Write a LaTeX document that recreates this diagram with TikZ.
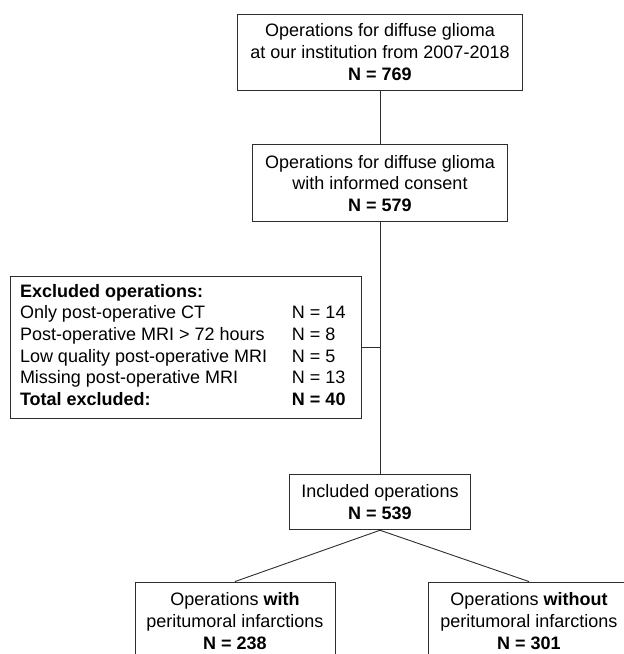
\documentclass[tikz,border=0pt]{standalone}
\usepackage{fontspec}
\setmainfont{Liberation Sans}
\usepackage{tikz}
\usetikzlibrary{positioning}
\definecolor{lineclr}{RGB}{45,45,45}

\begin{document}
\begin{tikzpicture}[
    x=1pt, y=1pt,
    box/.style={draw=lineclr, line width=0.9pt, align=center, inner sep=4pt,
                font=\fontsize{18}{21.7}\selectfont},
    link/.style={draw=lineclr, line width=0.9pt}
  ]
\useasboundingbox (0,0) rectangle (624,-654);
\clip (0,0) rectangle (624,-654);

\node[box, minimum width=285pt, minimum height=76pt] (total) at (380,-52)
  {Operations for diffuse glioma\\at our institution from 2007-2018\\\textbf{N = 769}};
\node[box, minimum width=255pt, minimum height=77pt, below=54pt of total] (consent)
  {Operations for diffuse glioma\\with informed consent\\\textbf{N = 579}};
\node[box, minimum width=181pt, minimum height=55pt, below=252pt of consent] (included)
  {Included operations\\\textbf{N = 539}};

\node[box, align=left, inner xsep=10pt, inner ysep=0pt, minimum height=142pt] (excluded) at (185.5,-347)
  {\begin{tabular}{@{}p{272pt}@{}p{59pt}@{}}
   \multicolumn{2}{@{}l@{}}{\textbf{Excluded operations:}}\\
   Only post-operative CT & N = 14\\
   Post-operative MRI > 72 hours & N = 8\\
   Low quality post-operative MRI & N = 5\\
   Missing post-operative MRI & N = 13\\
   \textbf{Total excluded:} & \textbf{N = 40}
   \end{tabular}};
\coordinate (branch) at (excluded.east -| included.north);

\node[box, minimum width=200pt, minimum height=78pt] (withinf) at (235,-621)
  {Operations \textbf{with}\\peritumoral infarctions\\\textbf{N = 238}};
\node[box, minimum width=202pt, minimum height=78pt] (withoutinf) at (529,-621)
  {Operations \textbf{without}\\peritumoral infarctions\\\textbf{N = 301}};

\draw[link] (total) -- (consent);
\draw[link] (consent) -- (included);
\draw[link] (excluded.east) -- (branch);
\draw[link] (included.south) -- (withinf.north);
\draw[link] (included.south) -- (withoutinf.north);
\end{tikzpicture}
\end{document}
